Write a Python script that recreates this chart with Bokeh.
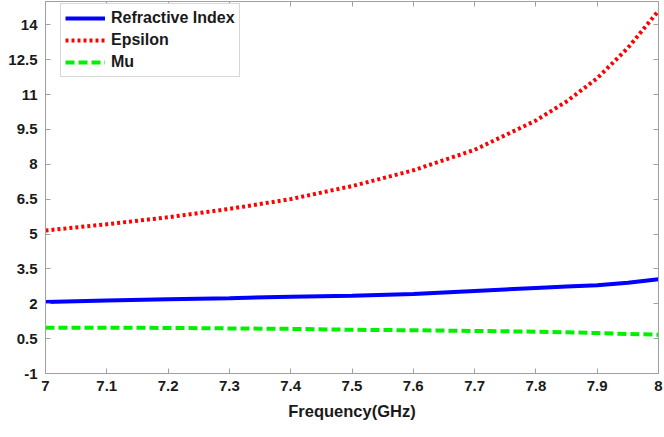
from bokeh.plotting import figure
from bokeh.models import Range1d, FixedTicker, CustomJSTickFormatter, LinearAxis, Legend, LegendItem
from bokeh.embed import file_html
from bokeh.resources import INLINE

freq = [7.0, 7.1, 7.2, 7.3, 7.4, 7.5, 7.6, 7.7, 7.8, 7.85, 7.9, 7.95, 8.0]
epsilon = [5.15, 5.42, 5.72, 6.08, 6.5, 7.06, 7.74, 8.62, 9.88, 10.7, 11.7, 13.0, 14.6]
refractive = [2.08, 2.14, 2.19, 2.24, 2.3, 2.34, 2.42, 2.55, 2.68, 2.74, 2.8, 2.9, 3.05]
mu = [0.97, 0.97, 0.96, 0.94, 0.92, 0.88, 0.86, 0.83, 0.8, 0.77, 0.74, 0.7, 0.67]

x_ticks = [7.0, 7.1, 7.2, 7.3, 7.4, 7.5, 7.6, 7.7, 7.8, 7.9, 8.0]
y_ticks = [-1, 0.5, 2, 3.5, 5, 6.5, 8, 9.5, 11, 12.5, 14]

FONT = "Liberation Sans"
FRAME = "#a0a0a0"
TEXT = "#1a1a1a"

p = figure(width=664, height=437, output_backend="svg", toolbar_location=None,
           x_range=Range1d(7, 8), y_range=Range1d(-1, 15),
           min_border_left=45, min_border_right=6, min_border_top=1, min_border_bottom=64)
p.xgrid.visible = False
p.ygrid.visible = False
p.outline_line_color = FRAME
p.background_fill_color = "white"
p.border_fill_color = "white"

fmt = CustomJSTickFormatter(code="return String(Number(tick.toFixed(2)));")
blank = CustomJSTickFormatter(code="return '';")

for ax, ticks in ((p.xaxis[0], x_ticks), (p.yaxis[0], y_ticks)):
    ax.ticker = FixedTicker(ticks=ticks)
    ax.formatter = fmt
    ax.major_tick_in = 5
    ax.major_tick_out = 0
    ax.minor_tick_in = 0
    ax.minor_tick_out = 0
    ax.axis_line_color = FRAME
    ax.major_tick_line_color = FRAME
    ax.major_label_text_font = FONT
    ax.major_label_text_font_style = "bold"
    ax.major_label_text_font_size = "15px"
    ax.major_label_text_color = TEXT

p.xaxis.major_label_standoff = 7
p.yaxis.major_label_standoff = 8
p.xaxis.axis_label = "Frequency(GHz)"
p.xaxis.axis_label_text_font = FONT
p.xaxis.axis_label_text_font_style = "bold"
p.xaxis.axis_label_text_font_size = "16.5px"
p.xaxis.axis_label_text_color = TEXT
p.xaxis.axis_label_standoff = 8

# box axes (top/right) with inward ticks, no labels
top = LinearAxis(ticker=FixedTicker(ticks=x_ticks), formatter=blank, major_tick_in=5, major_tick_out=0,
                 minor_tick_in=0, minor_tick_out=0, major_label_standoff=0,
                 axis_line_color=FRAME, major_tick_line_color=FRAME)
right = LinearAxis(ticker=FixedTicker(ticks=y_ticks), formatter=blank, major_tick_in=5, major_tick_out=0,
                   minor_tick_in=0, minor_tick_out=0, major_label_standoff=0,
                   axis_line_color=FRAME, major_tick_line_color=FRAME)
p.add_layout(top, "above")
p.add_layout(right, "right")

r1 = p.line(freq, refractive, line_color="#0000ff", line_width=4)
r2 = p.line(freq, epsilon, line_color="#ff0000", line_width=4, line_dash="3 3")
r3 = p.line(freq, mu, line_color="#00f000", line_width=4, line_dash="9 4")

legend = Legend(items=[LegendItem(label="Refractive Index", renderers=[r1]),
                       LegendItem(label="Epsilon", renderers=[r2]),
                       LegendItem(label="Mu", renderers=[r3])],
                location=(15, 296))
legend.label_text_font = FONT
legend.label_text_font_style = "bold"
legend.label_text_font_size = "16px"
legend.label_text_color = TEXT
legend.glyph_width = 40
legend.glyph_height = 20
legend.label_height = 20
legend.spacing = 2
legend.padding = 4
legend.margin = 0
legend.label_standoff = 6
legend.border_line_color = "#b0b0b0"
legend.background_fill_alpha = 1.0
p.add_layout(legend)

open("out.html", "w").write(file_html(p, INLINE))
